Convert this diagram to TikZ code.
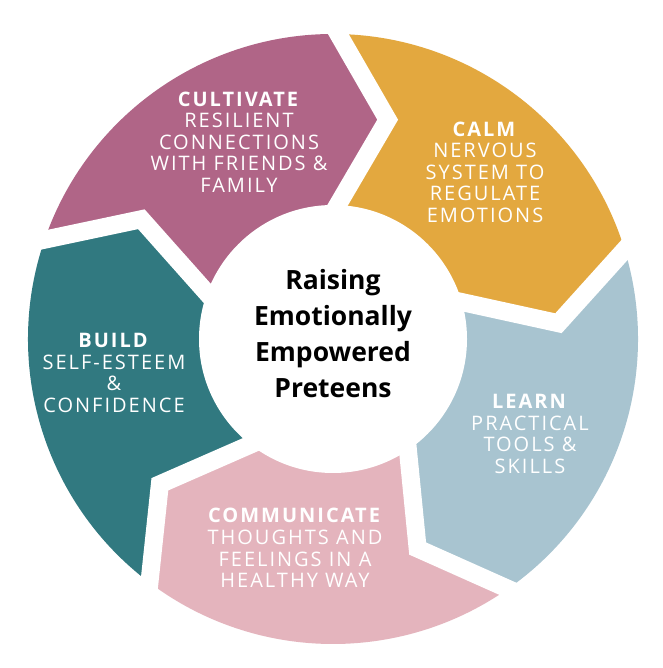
\documentclass[tikz,border=0pt]{standalone}
\usepackage{fontspec}
\setmainfont{Open Sans}
\newfontfamily\segfont[LetterSpace=10]{Open Sans}
\usetikzlibrary{calc}
\definecolor{cultc}{HTML}{B06587}
\definecolor{calmc}{HTML}{E3A83F}
\definecolor{learnc}{HTML}{A8C4D0}
\definecolor{commc}{HTML}{E4B4BD}
\definecolor{buildc}{HTML}{317980}
\tikzset{
  gapline/.style={white, line width=18pt, line join=miter, miter limit=10},
  seglabel/.style={text=white, align=center, inner sep=0pt, font=\segfont\fontsize{20}{21.5}\selectfont},
  titlelabel/.style={text=black, align=center, inner sep=0pt, font=\bfseries\fontsize{26.5}{36}\selectfont},
}
\begin{document}
\begin{tikzpicture}[x=1pt,y=1pt]
\fill[white] (0,0) rectangle (662,668);
\useasboundingbox (0,0) rectangle (662,668);
\begin{scope}[shift={(333pt,329pt)}]
  \foreach \a/\c in {89/calmc, 17/learnc, -55/commc, -127/buildc, -199/cultc} {
    \fill[\c] (\a-1:100pt) -- (\a-1:134pt) -- (\a-13:226pt) -- (\a:305pt)
      arc[start angle=\a, end angle=\a-72, radius=305pt]
      -- (\a-85:226pt) -- (\a-73:134pt) -- (\a-73:100pt) -- cycle;
  }
  \foreach \a in {89, 17, -55, -127, -199} {
    \coordinate (tip) at (\a-13:226pt);
    \coordinate (out) at (\a:305pt);
    \coordinate (inn) at (\a-1:134pt);
    \draw[gapline] ($(tip)!1.3!(out)$) -- (tip) -- ($(tip)!1.3!(inn)$);
  }
  \node[circle, fill=white, minimum size=268pt, inner sep=0pt] (hub) at (0,0) {};
\end{scope}
\node[titlelabel] (title) at (333,334) {Raising\\Emotionally\\Empowered\\Preteens};
\node[seglabel] (cultivate) at (239,526) {\textbf{CULTIVATE}\\RESILIENT\\CONNECTIONS\\WITH FRIENDS \&\\FAMILY};
\node[seglabel] (calm) at (485,496) {\textbf{CALM}\\NERVOUS\\SYSTEM TO\\REGULATE\\EMOTIONS};
\node[seglabel] (build) at (114,295) {\textbf{BUILD}\\SELF-ESTEEM\\\&\\CONFIDENCE};
\node[seglabel] (learn) at (530,234) {\textbf{LEARN}\\PRACTICAL\\TOOLS \&\\SKILLS};
\node[seglabel] (communicate) at (295,120) {\textbf{COMMUNICATE}\\THOUGHTS AND\\FEELINGS IN A\\HEALTHY WAY};
\end{tikzpicture}
\end{document}
